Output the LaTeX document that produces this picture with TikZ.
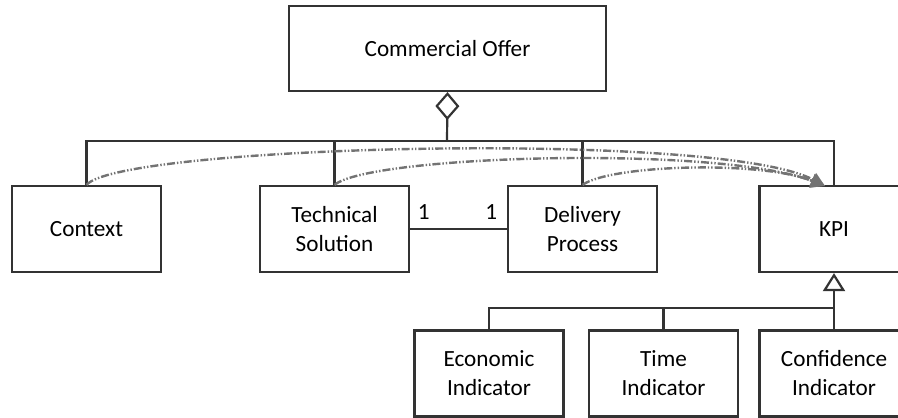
\documentclass[tikz,border=0pt]{standalone}
\usepackage{fontspec}
\setmainfont{Carlito}
\usetikzlibrary{arrows.meta}
\begin{document}
\begin{tikzpicture}[x=.5pt,y=-.5pt,line width=1.1pt,draw=black!80,
    box/.style={draw,minimum width=74.5pt,minimum height=43pt,align=center,inner sep=0pt,
        font=\fontsize{11.6}{14.5}\selectfont,text=black},
    kpiflow/.style={black!55,line width=1.2pt,dash pattern=on 4pt off 1pt on .7pt off 1pt on .7pt off 1pt,
        -{Triangle[length=7pt,width=7pt]}},
    mult/.style={font=\fontsize{11.6}{13}\selectfont,text=black}]
    \useasboundingbox (0,0) rectangle (898,417);
    % boxes
    \node[box,minimum width=158.5pt,minimum height=42.5pt] (offer) at (447.5,48.5) {Commercial Offer};
    \node[box] (ctx) at (86.5,229) {Context};
    \node[box] (tech) at (334.5,229) {Technical\\Solution};
    \node[box] (deliv) at (582.5,229) {Delivery\\Process};
    \node[box] (kpi) at (834,229) {KPI};
    \node[box] (eco) at (489,373.5) {Economic\\Indicator};
    \node[box] (time) at (663.5,373.5) {Time\\Indicator};
    \node[box] (conf) at (834,373.5) {Confidence\\Indicator};
    \coordinate (bus) at (447,141);
    \coordinate (gen) at (834,308);
    \coordinate (tip) at (825,186);
    % aggregation
    \draw (ctx.north) |- (bus) -| (kpi.north);
    \draw (tech.north) -- (tech.north |- bus);
    \draw (deliv.north) -- (deliv.north |- bus);
    \draw[-{Diamond[open,length=14pt,width=12pt]}] (bus) -- (offer.south);
    % association
    \draw (tech.east) -- node[mult,pos=0,above right,yshift=1pt]{1}
        node[mult,pos=1,above left,xshift=-1pt,yshift=1pt]{1} (deliv.west);
    % generalization
    \draw (eco.north) |- (gen);
    \draw (time.north) -- (time.north |- gen);
    \draw[-{Triangle[open,length=9pt,width=11pt]}] (conf.north) -- (kpi.south);
    % flows to KPI
    \draw[kpiflow] (ctx.north) .. controls (120,145) and (720,130) .. (tip);
    \draw[kpiflow] (tech.north) .. controls (370,155) and (720,145) .. (tip);
    \draw[kpiflow] (deliv.north) .. controls (610,165) and (760,160) .. (tip);
\end{tikzpicture}
\end{document}
